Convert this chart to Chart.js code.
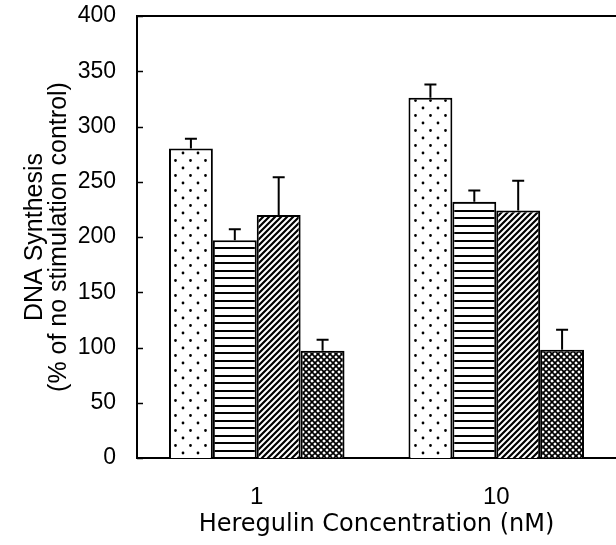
<!DOCTYPE html>
<html>
<head>
<meta charset="utf-8">
<script src="https://cdn.jsdelivr.net/npm/chart.js@4/dist/chart.umd.min.js"></script>
<style>
  html, body { margin: 0; padding: 0; background: #ffffff; }
  #wrap { width: 616px; height: 545px; }
</style>
</head>
<body>
<div id="wrap"><canvas id="chart-dna"></canvas></div>
<script>
const categories = ['1', '10']
const seriesNames = ['Dots', 'Horizontal', 'Diagonal', 'Crosshatch']
const dotsValues = [280, 326]
const dotsErrors = [9, 12]
const horizontalValues = [197, 232]
const horizontalErrors = [10, 10]
const diagonalValues = [220, 224]
const diagonalErrors = [34, 27]
const crossValues = [97, 98]
const crossErrors = [10, 18]
const yTicks = [0, 50, 100, 150, 200, 250, 300, 350, 400]

const makePattern = (w, h, draw) => {
    const c = document.createElement('canvas')
    c.width = w
    c.height = h
    const g = c.getContext('2d')
    g.fillStyle = '#ffffff'
    g.fillRect(0, 0, w, h)
    g.fillStyle = '#000000'
    g.strokeStyle = '#000000'
    draw(g, w, h)
    return document.createElement('canvas').getContext('2d').createPattern(c, 'repeat')
}

const dotPattern = makePattern(15, 15, (g) => {
    g.beginPath()
    g.arc(3, 3, 1.4, 0, Math.PI * 2)
    g.arc(10.5, 10.5, 1.4, 0, Math.PI * 2)
    g.fill()
})

const hLinePattern = makePattern(8, 15, (g) => {
    g.fillRect(0, 0, 8, 2)
    g.fillRect(0, 7, 8, 2)
})

const diagPattern = makePattern(6, 6, (g) => {
    g.lineWidth = 2.2
    g.beginPath()
    g.moveTo(-1, 7); g.lineTo(7, -1)
    g.moveTo(-4, 4); g.lineTo(4, -4)
    g.moveTo(2, 10); g.lineTo(10, 2)
    g.stroke()
})

const crossPattern = makePattern(6, 6, (g) => {
    g.lineWidth = 1.7
    g.beginPath()
    g.moveTo(-1, 7); g.lineTo(7, -1)
    g.moveTo(-4, 4); g.lineTo(4, -4)
    g.moveTo(2, 10); g.lineTo(10, 2)
    g.moveTo(-1, -1); g.lineTo(7, 7)
    g.moveTo(-4, 2); g.lineTo(4, 10)
    g.moveTo(2, -4); g.lineTo(10, 4)
    g.stroke()
})

const errorsBySeries = [dotsErrors, horizontalErrors, diagonalErrors, crossErrors]

const errorBars = {
    id: 'errorBars',
    afterDatasetsDraw(chart) {
        const ctx = chart.ctx
        const yScale = chart.scales.y
        ctx.save()
        ctx.strokeStyle = '#000000'
        ctx.lineWidth = 2
        chart.data.datasets.forEach((ds, i) => {
            const meta = chart.getDatasetMeta(i)
            meta.data.forEach((bar, j) => {
                const top = yScale.getPixelForValue(ds.data[j] + errorsBySeries[i][j])
                ctx.beginPath()
                ctx.moveTo(bar.x, bar.y)
                ctx.lineTo(bar.x, top)
                ctx.moveTo(bar.x - 6, top)
                ctx.lineTo(bar.x + 6, top)
                ctx.stroke()
            })
        })
        ctx.restore()
    }
}

const frame = {
    id: 'frame',
    afterDraw(chart) {
        const ctx = chart.ctx
        const area = chart.chartArea
        const yScale = chart.scales.y
        ctx.save()
        ctx.strokeStyle = '#000000'
        ctx.lineWidth = 2
        ctx.beginPath()
        ctx.moveTo(area.left - 1, area.top)
        ctx.lineTo(area.right, area.top)
        ctx.stroke()
        // small inward tick marks
        ctx.lineWidth = 1.5
        yScale.ticks.forEach(t => {
            const y = Math.round(yScale.getPixelForValue(t.value)) + 0.5
            ctx.beginPath()
            ctx.moveTo(area.left, y)
            ctx.lineTo(area.left + 6, y)
            ctx.stroke()
        })
        ctx.restore()
    }
}

const makeSeries = (label, data, fill) => ({
    label: label,
    data: data,
    backgroundColor: fill,
    borderColor: '#000000',
    borderWidth: 2,
    borderSkipped: 'bottom',
    barPercentage: 1.0,
    categoryPercentage: 0.733
})

const chartContext = document.getElementById('chart-dna').getContext('2d')

new Chart(chartContext, {
    type: 'bar',
    data: {
        labels: categories,
        datasets: [
            makeSeries(seriesNames[0], dotsValues, dotPattern),
            makeSeries(seriesNames[1], horizontalValues, hLinePattern),
            makeSeries(seriesNames[2], diagonalValues, diagPattern),
            makeSeries(seriesNames[3], crossValues, crossPattern)
        ]
    },
    options: {
        responsive: true,
        maintainAspectRatio: false,
        animation: false,
        layout: {
            padding: { top: 16, right: 0, bottom: 0, left: 0 }
        },
        plugins: {
            legend: { display: false },
            tooltip: { enabled: false }
        },
        scales: {
            x: {
                grid: { display: false, drawTicks: false },
                border: { display: true, color: '#000000', width: 2 },
                ticks: {
                    color: '#000000',
                    padding: 25,
                    font: { family: 'Liberation Sans', size: 24 }
                },
                title: {
                    display: true,
                    text: 'Heregulin Concentration (nM)',
                    color: '#000000',
                    padding: { top: 0, bottom: 6 },
                    font: { family: 'DejaVu Sans', size: 24 }
                },
                afterFit: (scale) => {
                    scale.height = 87
                    scale.paddingLeft = 0
                    scale.paddingRight = 0
                }
            },
            y: {
                min: 0,
                max: 400,
                afterBuildTicks: (scale) => {
                    scale.ticks = yTicks.map(v => ({ value: v }))
                },
                grid: { display: false, drawTicks: false },
                border: { display: true, color: '#000000', width: 2 },
                ticks: {
                    color: '#000000',
                    padding: 21,
                    font: { family: 'Liberation Sans', size: 23 }
                },
                title: {
                    display: true,
                    text: ['DNA Synthesis', '(% of no stimulation control)'],
                    color: '#000000',
                    padding: { top: 23, bottom: 0 },
                    font: { family: 'Liberation Sans', size: 25, lineHeight: 0.96 }
                },
                afterFit: (scale) => {
                    scale.width = 137
                    scale.paddingTop = 0
                    scale.paddingBottom = 0
                }
            }
        }
    },
    plugins: [errorBars, frame]
})
</script>
</body>
</html>
